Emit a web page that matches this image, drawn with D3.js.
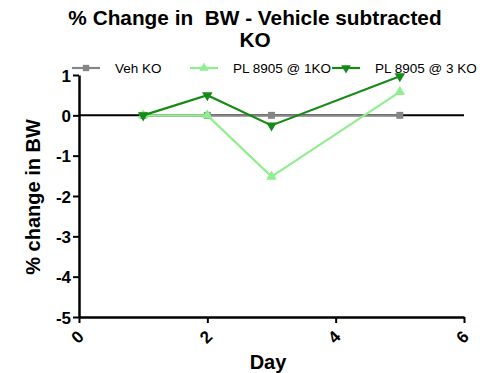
<!DOCTYPE html>
<html>
<head>
<meta charset="utf-8">
<script src="https://cdn.jsdelivr.net/npm/d3@7/dist/d3.min.js"></script>
<style>
  html, body { margin: 0; padding: 0; background: #fff; }
  svg { display: block; font-family: "Liberation Sans", Arial, sans-serif; }
</style>
</head>
<body>
<svg id="chart" width="500" height="373"></svg>
<script>
// Days on which body weight was measured
const days = [1, 2, 3, 5];

// % change in BW, vehicle subtracted, per group
const vehKO = [0, 0, 0, 0];
const pl1KO = [0, 0, -1.52, 0.58];
const pl3KO = [0, 0.5, -0.25, 0.97];

const seriesNames = ["Veh KO", "PL 8905 @ 1KO", "PL 8905 @ 3 KO"];
const seriesColors = ["#858585", "#90ee90", "#168a16"];
const seriesSymbols = [d3.symbolSquare, d3.symbolTriangle, "triDown"];

const xTicks = [0, 2, 4, 6];
const yTicks = [1, 0, -1, -2, -3, -4, -5];

const svg = d3.select("#chart");
const x = d3.scaleLinear().domain([0, 6]).range([79, 464]);
const y = d3.scaleLinear().domain([-5, 1]).range([317, 75]);

// plain hyphen for negatives
const fmt = d => String(d);

// Title
svg.append("text").attr("x", 255).attr("y", 25).attr("text-anchor", "middle")
  .attr("font-size", 20.8).attr("font-weight", "bold").attr("xml:space", "preserve")
  .text("% Change in  BW - Vehicle subtracted");
svg.append("text").attr("x", 255).attr("y", 47).attr("text-anchor", "middle")
  .attr("font-size", 20.8).attr("font-weight", "bold").text("KO");

// Zero reference line
svg.append("line").attr("x1", x(0)).attr("x2", x(6)).attr("y1", y(0)).attr("y2", y(0))
  .attr("stroke", "#000").attr("stroke-width", 2);

// Axes
const yAxis = svg.append("g").attr("transform", `translate(${x(0)},0)`)
  .call(d3.axisLeft(y).tickValues(yTicks).tickSize(6).tickSizeOuter(0).tickFormat(fmt));
const xAxis = svg.append("g").attr("transform", `translate(0,${y(-5)})`)
  .call(d3.axisBottom(x).tickValues(xTicks).tickSize(6).tickSizeOuter(0).tickFormat(fmt));
[yAxis, xAxis].forEach(g => {
  g.select(".domain").attr("stroke", "#000").attr("stroke-width", 2.5);
  g.selectAll(".tick line").attr("stroke", "#000").attr("stroke-width", 2);
  g.selectAll("text").attr("font-size", 17).attr("font-weight", "bold")
    .attr("font-family", "'Liberation Sans', Arial, sans-serif").attr("fill", "#000");
});
yAxis.selectAll("text").attr("x", -8).attr("dy", "0.36em");
xAxis.selectAll(".tick text")
  .attr("y", 0).attr("dy", 0).attr("text-anchor", "middle")
  .attr("transform", "translate(-1,21) rotate(-45)")
  .attr("dominant-baseline", "middle");

// Axis titles
svg.append("text").attr("transform", "translate(40,197) rotate(-90)")
  .attr("text-anchor", "middle").attr("font-size", 20).attr("font-weight", "bold")
  .text("% change in BW");
svg.append("text").attr("x", 268).attr("y", 369).attr("text-anchor", "middle")
  .attr("font-size", 20).attr("font-weight", "bold").text("Day");

function symbolPath(sym, size) {
  return d3.symbol().type(sym === "triDown" ? d3.symbolTriangle : sym).size(size)();
}
function symbolTransform(sym, px, py) {
  return sym === "triDown" ? `translate(${px},${py}) rotate(180)` : `translate(${px},${py})`;
}

// Data series
const allSeries = [vehKO, pl1KO, pl3KO];
const line = d3.line().x((d, i) => x(days[i])).y(d => y(d));
allSeries.forEach((vals, s) => {
  const g = svg.append("g");
  g.append("path").datum(vals).attr("d", line).attr("fill", "none")
    .attr("stroke", seriesColors[s]).attr("stroke-width", 2.2);
  g.selectAll("path.pt").data(vals).join("path").attr("class", "pt")
    .attr("d", symbolPath(seriesSymbols[s], 48))
    .attr("transform", (d, i) => symbolTransform(seriesSymbols[s], x(days[i]), y(d)))
    .attr("fill", seriesColors[s]);
});

// Legend
const legendX = [72, 190, 332];
const legendY = 68;
seriesNames.forEach((name, s) => {
  const g = svg.append("g").attr("transform", `translate(${legendX[s]},${legendY})`);
  g.append("line").attr("x1", 0).attr("x2", 28).attr("stroke", seriesColors[s]).attr("stroke-width", 2.2);
  g.append("path").attr("d", symbolPath(seriesSymbols[s], 40))
    .attr("transform", symbolTransform(seriesSymbols[s], 14, 0)).attr("fill", seriesColors[s]);
  g.append("text").attr("x", 43).attr("y", 0).attr("dy", "0.35em")
    .attr("font-size", 13.5).attr("fill", "#000").text(name);
});
</script>
</body>
</html>
